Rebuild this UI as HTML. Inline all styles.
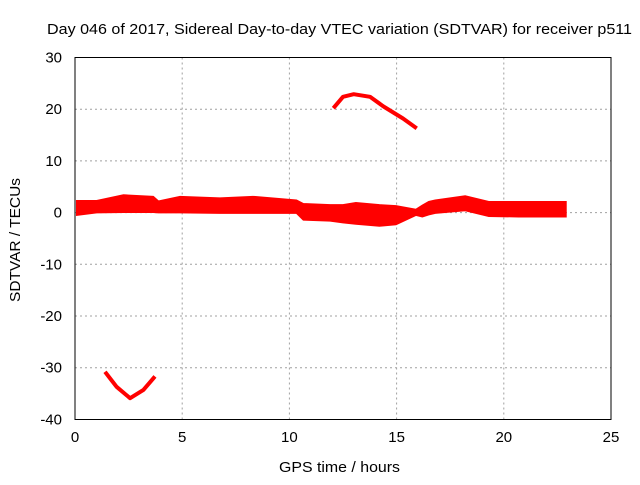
<!DOCTYPE html>
<html><head><meta charset="utf-8"><style>
body{margin:0;background:#fff}
svg text{font-family:"Liberation Sans",sans-serif;font-size:15px;fill:#000}
</style></head><body>
<svg id="c" width="640" height="480">
<text x="47" y="34" textLength="585" lengthAdjust="spacingAndGlyphs">Day 046 of 2017, Sidereal Day-to-day VTEC variation (SDTVAR) for receiver p511</text>
<text x="279" y="472" textLength="121" lengthAdjust="spacingAndGlyphs">GPS time / hours</text>
<text transform="translate(20,302) rotate(-90)" textLength="124" lengthAdjust="spacingAndGlyphs">SDTVAR / TECUs</text>
<g id="grid"></g><g id="marks"></g>
<rect x="75" y="57.5" width="536" height="362" fill="none" stroke="#000" stroke-width="1"/>
</svg>
<script>
const xTicks=[0,5,10,15,20,25];
const yTicks=[30,20,10,0,-10,-20,-30,-40];
const bandHours=[0.08,1.01,2.26,3.65,3.89,4.9,6.76,8.3,10.33,10.65,11.9,12.5,13.1,14.2,14.97,15.9,16.2,16.5,16.8,18.2,19.3,20.7,21.5,22.9];
const bandUpper=[2.3,2.3,3.4,3.1,2.2,3.1,2.8,3.1,2.4,1.7,1.5,1.5,1.9,1.5,1.3,0.6,1.4,2.1,2.4,3.2,2.1,2.1,2.1,2.1];
const bandLower=[-0.5,0.0,0.06,0.06,0.0,0.0,-0.1,-0.1,-0.1,-1.4,-1.6,-1.95,-2.2,-2.6,-2.3,-0.5,-0.8,-0.4,-0.1,0.4,-0.7,-0.8,-0.8,-0.8];
const arcHours=[12.05,12.5,13.0,13.76,14.4,15.3,15.94];
const arcValues=[20.2,22.4,22.9,22.4,20.5,18.2,16.3];
const dipHours=[1.4,1.94,2.57,3.19,3.73];
const dipValues=[-30.8,-33.7,-35.9,-34.3,-31.7];
const X=h=>75+h*536/25, Y=v=>212.6-v*5.17;
const NS='http://www.w3.org/2000/svg';
const g=document.getElementById('grid'), m=document.getElementById('marks'), svg=document.getElementById('c');
function el(t,a,p){const e=document.createElementNS(NS,t);for(const k in a)e.setAttribute(k,a[k]);p.appendChild(e);return e;}
xTicks.forEach(t=>{
 if(t>0&&t<25){const l=el('line',{x1:X(t),x2:X(t),y1:57.5,y2:419.5,stroke:'#a0a0a0','stroke-dasharray':'2,3'},g);
 
 }
 const tx=el('text',{x:X(t),y:442,'text-anchor':'middle'},svg);tx.textContent=t;
 
 
});
yTicks.forEach(t=>{
 if(t<30&&t>-40){const l=el('line',{x1:75,x2:611,y1:Y(t),y2:Y(t),stroke:'#a0a0a0','stroke-dasharray':'2,3'},g);
 
 }
 const tx=el('text',{x:62,y:Y(t)+5,'text-anchor':'end'},svg);tx.textContent=t;
 
 
});
let d='M'+bandHours.map((h,i)=>X(h)+','+Y(bandUpper[i])).join('L');
for(let i=bandHours.length-1;i>=0;i--)d+='L'+X(bandHours[i])+','+Y(bandLower[i]);
const band=el('path',{d:d+'Z',fill:'#ff0000',stroke:'#ff0000','stroke-width':1.5},m);


const a=el('polyline',{points:arcHours.map((h,i)=>X(h)+','+Y(arcValues[i])).join(' '),fill:'none',stroke:'#ff0000','stroke-width':4,'stroke-linejoin':'round'},m);


const b=el('polyline',{points:dipHours.map((h,i)=>X(h)+','+Y(dipValues[i])).join(' '),fill:'none',stroke:'#ff0000','stroke-width':4,'stroke-linejoin':'round'},m);


</script>
</body></html>
